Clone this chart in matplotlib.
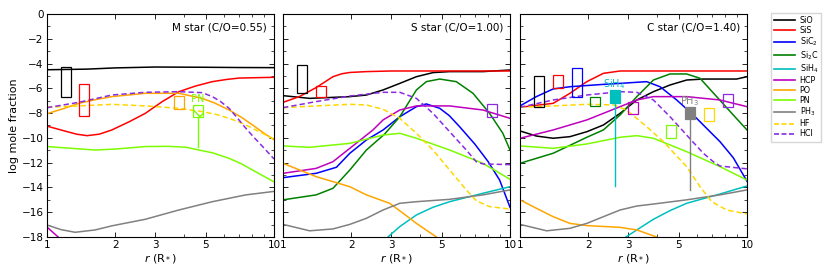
import matplotlib
matplotlib.use("Agg")
import matplotlib.pyplot as plt
from matplotlib.ticker import FixedLocator, NullFormatter, FixedFormatter, MultipleLocator
import numpy as np

species = ["SiO", "SiS", "SiC2", "Si2C", "SiH4", "HCP", "PO", "PN", "PH3", "HF", "HCl"]
labels = {"SiO": "SiO", "SiS": "SiS", "SiC2": "SiC$_2$", "Si2C": "Si$_2$C", "SiH4": "SiH$_4$",
          "HCP": "HCP", "PO": "PO", "PN": "PN", "PH3": "PH$_3$", "HF": "HF", "HCl": "HCl"}
colors = {"SiO": "black", "SiS": "red", "SiC2": "blue", "Si2C": "green", "SiH4": "c",
          "HCP": "m", "PO": "orange", "PN": "lawngreen", "PH3": "gray", "HF": "gold", "HCl": "blueviolet"}
dashed = {"HF", "HCl"}

panel_titles = ["M star (C/O=0.55)", "S star (C/O=1.00)", "C star (C/O=1.40)"]

# ---------------- M star ----------------
M = {
    "SiO": ([1, 1.5, 2, 3, 5, 7, 10], [-4.5, -4.45, -4.35, -4.28, -4.3, -4.32, -4.33]),
    "SiS": ([1, 1.2, 1.35, 1.5, 1.7, 1.93, 2.3, 2.71, 3.22, 3.81, 4.52, 5.35, 6.2, 7.03, 10],
            [-9.05, -9.45, -9.7, -9.82, -9.7, -9.36, -8.7, -8.02, -7.07, -6.27, -5.81, -5.46, -5.28, -5.17, -5.11]),
    "HCP": ([1, 1.12, 1.2], [-17.2, -18.0, -18.5]),
    "PO": ([1, 1.2, 1.38, 1.65, 1.93, 2.71, 3.81, 4.83, 5.5, 6.34, 7.2, 8.05, 9, 10],
           [-8.05, -7.6, -7.21, -6.9, -6.67, -6.4, -6.4, -6.81, -7.2, -7.75, -8.35, -8.96, -9.6, -10.15]),
    "PN": ([1, 1.3, 1.63, 2, 2.71, 3.4, 4.08, 4.67, 5.35, 6.34, 7.2, 8.05, 10],
           [-10.7, -10.85, -10.98, -10.9, -10.7, -10.68, -10.75, -10.98, -11.2, -11.65, -12.1, -12.6, -13.55]),
    "PH3": ([1, 1.15, 1.33, 1.63, 1.93, 2.71, 3.81, 5.35, 7.52, 10],
            [-17.03, -17.4, -17.62, -17.43, -17.1, -16.57, -15.82, -15.15, -14.6, -14.32]),
    "HF": ([1, 1.38, 1.93, 2.71, 3.81, 4.83, 5.6, 6.34, 7.2, 8.05, 10],
           [-7.52, -7.42, -7.29, -7.42, -7.61, -7.88, -8.12, -8.42, -8.8, -9.23, -10.1]),
    "HCl": ([1, 1.38, 1.93, 2.71, 3.81, 4.83, 5.35, 5.8, 6.34, 6.9, 7.52, 8.2, 8.91, 10],
            [-7.56, -7.13, -6.54, -6.32, -6.27, -6.35, -6.67, -7.05, -7.61, -8.4, -9.23, -10.0, -10.7, -11.7]),
}

# ---------------- S star ----------------
S = {
    "SiO": ([1, 1.31, 1.97, 2.33, 2.76, 3.27, 3.87, 4.58, 5.42, 7.6, 10],
            [-6.59, -6.81, -6.67, -6.54, -6.13, -5.6, -5.06, -4.73, -4.65, -4.65, -4.52]),
    "SiS": ([1, 1.18, 1.4, 1.66, 1.82, 1.97, 2.33, 3, 10],
            [-7.13, -6.67, -5.94, -5.06, -4.82, -4.72, -4.65, -4.6, -4.6]),
    "SiC2": ([1, 1.4, 1.72, 1.97, 2.33, 2.76, 3.27, 3.87, 4.28, 4.9, 5.4, 6, 7, 8, 9, 10],
             [-13.21, -12.86, -12.37, -11.24, -10.17, -9.36, -8.29, -7.48, -7.26, -7.61, -8.2, -9.1, -10.5, -11.9, -13.4, -15.6]),
    "Si2C": ([1, 1.4, 1.66, 1.97, 2.33, 2.8, 3.27, 3.87, 4.28, 4.9, 5.8, 6.87, 8.13, 9.3, 10],
             [-15.0, -14.6, -14.07, -12.59, -10.98, -9.7, -8.29, -6.13, -5.46, -5.25, -5.46, -6.4, -8.02, -9.63, -10.98]),
    "SiH4": ([2.9, 3.27, 3.87, 4.58, 5.42, 7.6, 10],
             [-18.0, -17.16, -16.22, -15.6, -15.15, -14.47, -13.94]),
    "HCP": ([1, 1.4, 1.66, 1.97, 2.49, 2.76, 3.27, 3.87, 5.42, 7.6, 10],
            [-12.86, -12.46, -11.92, -10.84, -9.36, -8.55, -7.75, -7.42, -7.42, -7.75, -8.42]),
    "PO": ([1, 1.4, 1.97, 2.33, 2.95, 3.38, 3.87, 4.74, 5.0],
           [-12.05, -13.13, -13.94, -14.6, -15.28, -16.08, -16.9, -18.0, -18.4]),
    "PN": ([1, 1.31, 1.97, 2.76, 3.27, 3.87, 5.42, 7.6, 10],
           [-10.65, -10.76, -10.44, -9.77, -9.63, -10.03, -10.98, -12.05, -13.34]),
    "PH3": ([1, 1.31, 1.66, 1.97, 2.33, 2.76, 3.27, 3.87, 5.42, 7.6, 10],
            [-16.98, -17.5, -17.35, -16.98, -16.49, -15.82, -15.28, -15.15, -14.96, -14.6, -14.2]),
    "HF": ([1, 1.4, 1.97, 2.33, 2.76, 3.27, 3.87, 4.58, 5.42, 6.42, 7.1, 8.13, 10],
           [-7.56, -7.42, -7.29, -7.34, -7.69, -8.42, -9.63, -10.98, -12.59, -14.2, -15.07, -15.55, -15.74]),
    "HCl": ([1, 1.4, 1.97, 2.76, 3.27, 3.87, 4.58, 5.42, 6.42, 7.1, 7.6, 10],
            [-7.56, -7.07, -6.62, -6.32, -6.32, -6.81, -8.02, -9.5, -10.98, -11.92, -12.1, -12.16]),
}

# ---------------- C star ----------------
C = {
    "SiO": ([1, 1.18, 1.4, 1.66, 1.97, 2.33, 2.76, 3.27, 3.87, 4.58, 5.42, 6.42, 9.0, 10],
            [-9.44, -9.85, -10.03, -9.9, -9.5, -8.96, -8.02, -6.94, -6.27, -5.73, -5.33, -5.25, -5.25, -5.06]),
    "SiS": ([1, 1.4, 1.66, 1.97, 2.33, 2.76, 10],
            [-7.53, -7.21, -6.4, -5.46, -4.79, -4.6, -4.6]),
    "SiC2": ([1, 1.18, 1.4, 1.66, 2.33, 2.76, 3.61, 4.14, 4.9, 5.8, 6.87, 7.6, 8.7, 10],
             [-7.42, -6.67, -6.05, -5.87, -5.68, -5.6, -5.46, -5.87, -6.94, -8.15, -9.5, -10.3, -11.6, -13.5]),
    "Si2C": ([1, 1.4, 1.66, 1.97, 2.33, 2.76, 3.27, 3.87, 4.58, 5.42, 6.21, 7.35, 8.7, 10],
             [-12.05, -11.24, -10.6, -9.95, -9.36, -8.15, -6.67, -5.33, -4.84, -4.84, -5.19, -6.67, -8.15, -9.36]),
    "SiH4": ([2.93, 3.27, 3.87, 4.58, 5.42, 7.6, 10],
             [-18.0, -17.43, -16.57, -15.87, -15.28, -14.53, -13.88]),
    "HCP": ([1, 1.4, 1.97, 2.76, 3.27, 3.87, 5.42, 7.6, 10],
            [-10.03, -9.36, -8.55, -7.48, -6.94, -6.67, -6.67, -6.94, -7.48]),
    "PO": ([1, 1.18, 1.4, 1.66, 1.97, 2.76, 3.27, 4.0, 4.2],
           [-15.0, -15.68, -16.36, -16.9, -17.08, -17.22, -17.43, -18.0, -18.3]),
    "PN": ([1, 1.4, 1.97, 2.76, 3.27, 3.87, 5.42, 7.6, 10],
           [-10.65, -10.84, -10.49, -9.95, -9.82, -10.03, -11.11, -12.32, -13.4]),
    "PH3": ([1, 1.31, 1.66, 1.97, 2.33, 2.76, 3.27, 3.87, 5.42, 7.6, 10],
            [-16.98, -17.5, -17.3, -16.9, -16.36, -15.82, -15.5, -15.34, -15.0, -14.6, -14.2]),
    "HF": ([1, 1.4, 1.97, 2.58, 2.95, 3.61, 4.28, 5.42, 6.21, 6.99, 8.13, 10],
           [-7.53, -7.42, -7.29, -7.34, -7.75, -9.09, -10.3, -12.32, -13.94, -15.15, -15.82, -16.14]),
    "HCl": ([1, 1.4, 1.97, 2.76, 3.27, 3.87, 4.58, 5.42, 6.42, 7.1, 7.6, 10],
            [-7.53, -6.94, -6.54, -6.27, -6.32, -6.94, -8.29, -9.77, -11.24, -11.92, -12.27, -12.5]),
}

models = [M, S, C]

# Observations: (species, r_center, logX_top, logX_bottom)
obs_M = [("SiO", 1.21, -4.25, -6.72), ("SiS", 1.46, -5.67, -8.23), ("PO", 3.83, -6.59, -7.63)]
obs_S = [("SiO", 1.216, -4.14, -6.4), ("SiS", 1.47, -5.8, -6.72), ("HCl", 8.3, -7.28, -8.33)]
obs_C = [("SiO", 1.21, -4.97, -7.5), ("SiS", 1.466, -4.9, -6.0), ("SiC2", 1.777, -4.38, -6.7),
         ("Si2C", 2.15, -6.67, -7.39), ("HCP", 3.155, -7.07, -8.09), ("PN", 4.62, -9.0, -10.02),
         ("HF", 6.8, -7.6, -8.6), ("HCl", 8.26, -6.48, -7.53)]
observations = [obs_M, obs_S, obs_C]

# Upper limits / tentative: (species, r_center, top, bottom, line_end, style)
lim_M = [("PN", 4.63, -7.34, -8.33, -10.7, "hatch")]
lim_S = []
lim_C = [("SiH4", 2.61, -6.13, -7.2, -13.85, "fill"), ("PH3", 5.6, -7.48, -8.5, -14.2, "fill")]
limits = [lim_M, lim_S, lim_C]

BOX_HALF = 0.022  # half width in dex

fig = plt.figure(figsize=(8.3, 2.7), dpi=100)
lefts = [47 / 830, 283 / 830, 520 / 830]
W = 227 / 830
B = 1 - 237 / 270
H = (237 - 14) / 270
axes = [fig.add_axes([l, B, W, H]) for l in lefts]

for i, ax in enumerate(axes):
    data = models[i]
    for sp in species:
        if sp not in data:
            continue
        r, v = data[sp]
        ax.plot(r, v, color=colors[sp], lw=1.1,
                ls=(0, (3.5, 2)) if sp in dashed else "-", label=labels[sp], zorder=2)
    for sp, rc, top, bot in observations[i]:
        lo, hi = rc * 10 ** (-BOX_HALF), rc * 10 ** BOX_HALF
        ax.add_patch(plt.Rectangle((lo, bot), hi - lo, top - bot, fill=False,
                                   edgecolor=colors[sp], lw=0.9, zorder=3))
    for sp, rc, top, bot, lend, style in limits[i]:
        lo, hi = rc * 10 ** (-BOX_HALF), rc * 10 ** BOX_HALF
        col = colors[sp]
        if style == "hatch":
            ax.add_patch(plt.Rectangle((lo, bot), hi - lo, top - bot, facecolor="none",
                                       edgecolor=col, hatch="xx", lw=0.9, zorder=3))
        else:
            ax.add_patch(plt.Rectangle((lo, bot), hi - lo, top - bot, facecolor=col,
                                       edgecolor=col, lw=0.9, zorder=3))
        ax.plot([rc, rc], [bot, lend], color=col, lw=1.0, zorder=3)
        ax.text(rc, top + 0.45, labels[sp], color=col, fontsize=7, ha="center", va="center", zorder=4)

    ax.set_xscale("log")
    ax.set_xlim(1, 10)
    ax.set_ylim(-18, 0)
    ax.xaxis.set_major_locator(FixedLocator([1, 2, 3, 5, 10]))
    ax.xaxis.set_major_formatter(FixedFormatter(["1", "2", "3", "5", "10"]))
    ax.xaxis.set_minor_locator(FixedLocator([4, 6, 7, 8, 9]))
    ax.xaxis.set_minor_formatter(NullFormatter())
    ax.yaxis.set_major_locator(MultipleLocator(2))
    ax.yaxis.set_minor_locator(MultipleLocator(1))
    ax.tick_params(which="both", direction="in", top=True, right=True, labelsize=7.5, pad=2.5)
    ax.tick_params(which="major", length=3.5, width=0.6)
    ax.tick_params(which="minor", length=2, width=0.5)
    for s in ax.spines.values():
        s.set_linewidth(0.8)
    ax.set_xlabel("$r$ (R$_*$)", fontsize=8, labelpad=1)
    ax.text(0.97, 0.94, panel_titles[i], transform=ax.transAxes, ha="right", va="center", fontsize=7.5)
    if i == 0:
        ax.set_ylabel("log mole fraction", fontsize=8, labelpad=2)
    else:
        ax.set_yticklabels([])

handles, labs = [], []
for sp in species:
    h = plt.Line2D([], [], color=colors[sp], lw=1.2, ls=(0, (3, 1.5)) if sp in dashed else "-")
    handles.append(h)
    labs.append(labels[sp])
fig.legend(handles, labs, loc="upper left", bbox_to_anchor=(771 / 830, 1 - 12.5 / 270),
           fontsize=5.8, handlelength=2.6, handletextpad=0.55, labelspacing=0.12,
           borderpad=0.4, borderaxespad=0, frameon=True, fancybox=False, edgecolor="0.8")

fig.savefig("out.png", dpi=100)
